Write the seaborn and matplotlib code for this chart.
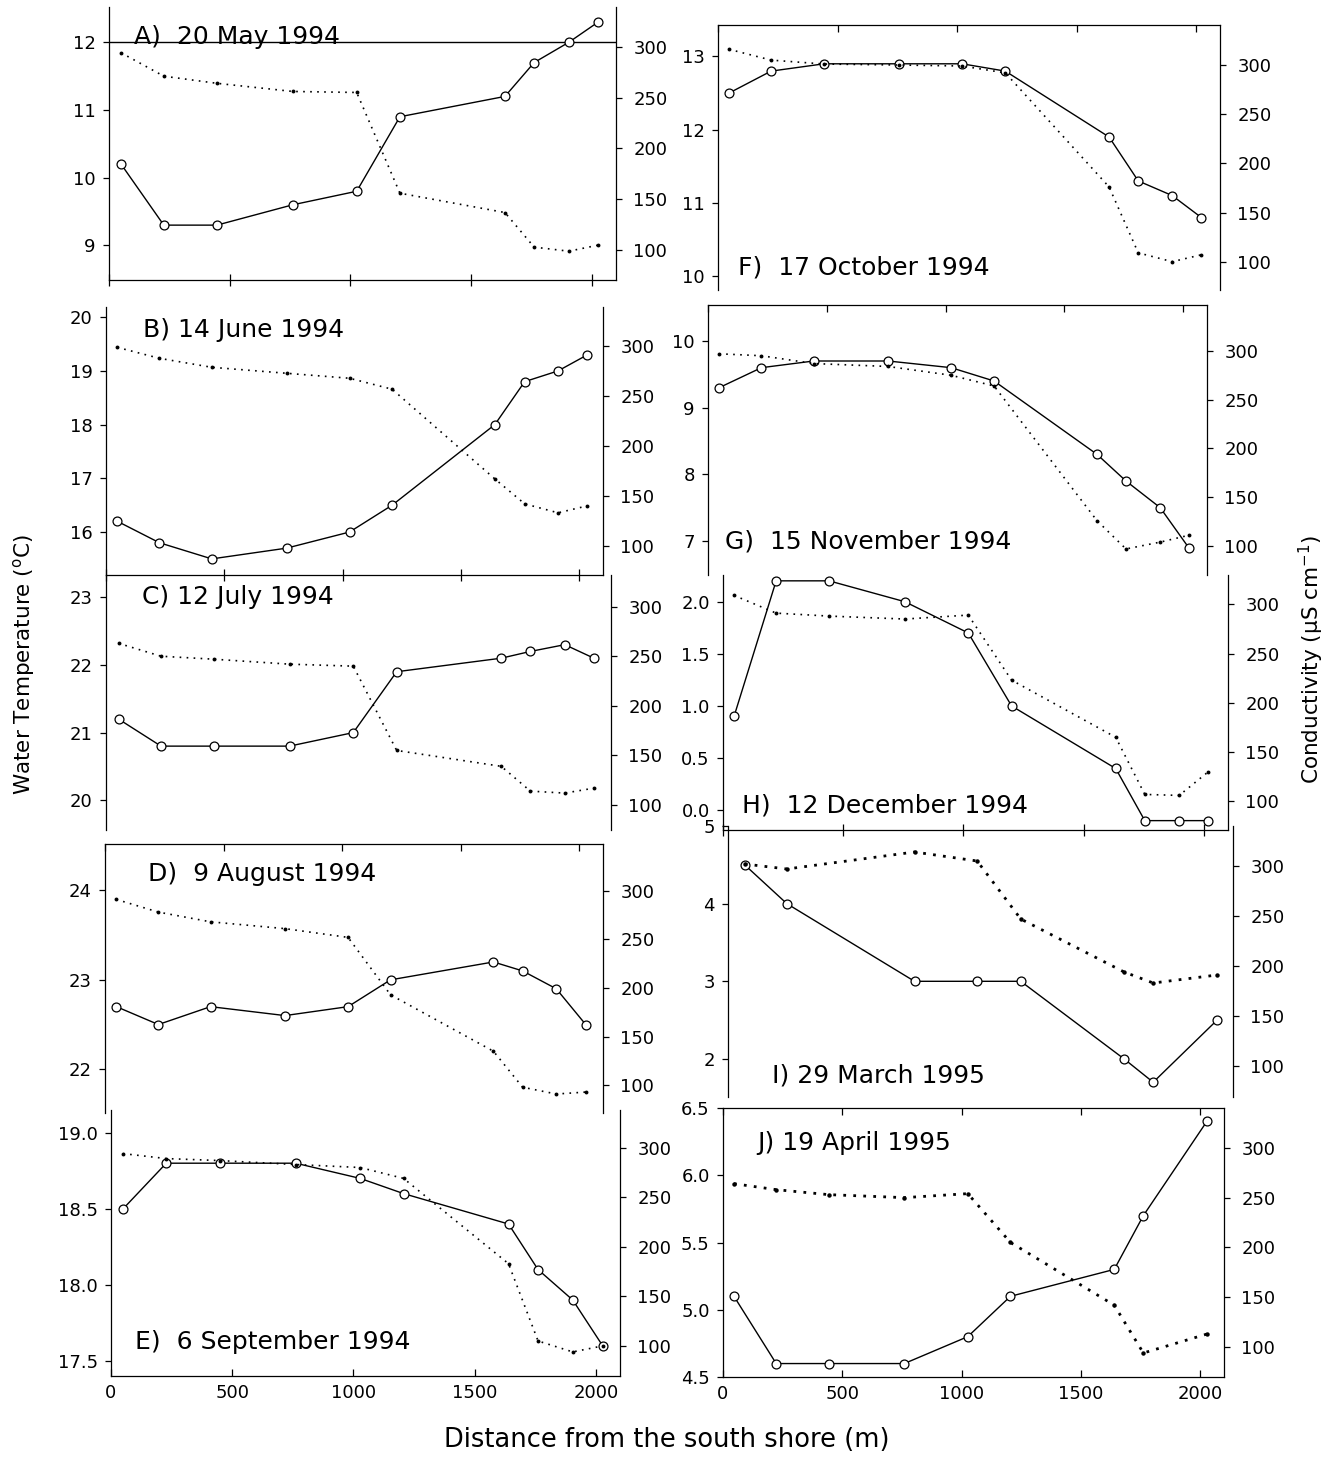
import matplotlib
matplotlib.use("Agg")
import matplotlib.pyplot as plt
import seaborn as sns

# ---- station data: distance from south shore (m), water temperature (°C), conductivity (µS/cm)
dist_A = [50, 227, 447, 761, 1026, 1205, 1640, 1761, 1905, 2027]
temp_A = [10.2, 9.3, 9.3, 9.6, 9.8, 10.9, 11.2, 11.7, 12.0, 12.3]
cond_A = [294, 271, 264, 256, 255, 156, 137, 103, 99, 105]

dist_B = [48, 226, 447, 763, 1029, 1209, 1643, 1769, 1910, 2034]
temp_B = [16.2, 15.8, 15.5, 15.7, 16.0, 16.5, 18.0, 18.8, 19.0, 19.3]
cond_B = [299, 288, 279, 273, 268, 257, 167, 142, 133, 140]

dist_C = [53, 232, 455, 774, 1043, 1226, 1667, 1790, 1935, 2058]
temp_C = [21.2, 20.8, 20.8, 20.8, 21.0, 21.9, 22.1, 22.2, 22.3, 22.1]
cond_C = [263, 250, 247, 242, 240, 155, 139, 114, 112, 117]

dist_D = [48, 225, 445, 759, 1025, 1204, 1638, 1761, 1903, 2027]
temp_D = [22.7, 22.5, 22.7, 22.6, 22.7, 23.0, 23.2, 23.1, 22.9, 22.5]
cond_D = [291, 278, 268, 261, 252, 193, 135, 98, 91, 93]

dist_E = [50, 228, 448, 762, 1028, 1207, 1640, 1762, 1905, 2028]
temp_E = [18.5, 18.8, 18.8, 18.8, 18.7, 18.6, 18.4, 18.1, 17.9, 17.6]
cond_E = [294, 289, 287, 283, 280, 269, 183, 105, 94, 100]

dist_F = [46, 222, 444, 759, 1021, 1202, 1636, 1758, 1900, 2022]
temp_F = [12.5, 12.8, 12.9, 12.9, 12.9, 12.8, 11.9, 11.3, 11.1, 10.8]
cond_F = [316, 305, 301, 300, 299, 292, 176, 109, 100, 107]

dist_G = [47, 225, 445, 758, 1023, 1204, 1637, 1759, 1903, 2023]
temp_G = [9.3, 9.6, 9.7, 9.7, 9.6, 9.4, 8.3, 7.9, 7.5, 6.9]
cond_G = [297, 295, 287, 284, 275, 264, 126, 97, 104, 111]

dist_H = [46, 221, 441, 756, 1020, 1200, 1633, 1754, 1897, 2018]
temp_H = [0.9, 2.2, 2.2, 2.0, 1.7, 1.0, 0.4, -0.1, -0.1, -0.1]
cond_H = [309, 291, 288, 285, 289, 223, 165, 107, 106, 130]

dist_I = [70, 247, 783, 1046, 1229, 1663, 1785, 2053]
temp_I = [4.5, 4.0, 3.0, 3.0, 3.0, 2.0, 1.7, 2.5]
cond_I = [302, 297, 314, 305, 247, 194, 183, 191]

dist_J = [46, 223, 443, 760, 1026, 1205, 1640, 1762, 2028]
temp_J = [5.1, 4.6, 4.6, 4.6, 4.8, 5.1, 5.3, 5.7, 6.4]
cond_J = [264, 258, 253, 250, 254, 205, 142, 94, 113]

titles = {
    "A": "A)  20 May 1994", "B": "B) 14 June 1994", "C": "C) 12 July 1994",
    "D": "D)  9 August 1994", "E": "E)  6 September 1994",
    "F": "F)  17 October 1994", "G": "G)  15 November 1994",
    "H": "H)  12 December 1994", "I": "I) 29 March 1995", "J": "J) 19 April 1995",
}
x_ticks = [0, 500, 1000, 1500, 2000]
x_tick_labels = ["0", "500", "1000", "1500", "2000"]
cond_ticks = [100, 150, 200, 250, 300]

data = {
    "A": (dist_A, temp_A, cond_A), "B": (dist_B, temp_B, cond_B),
    "C": (dist_C, temp_C, cond_C), "D": (dist_D, temp_D, cond_D),
    "E": (dist_E, temp_E, cond_E), "F": (dist_F, temp_F, cond_F),
    "G": (dist_G, temp_G, cond_G), "H": (dist_H, temp_H, cond_H),
    "I": (dist_I, temp_I, cond_I), "J": (dist_J, temp_J, cond_J),
}

# ---- layout of each panel (pixel box, limits, ticks, frame)
W, H = 1332, 1473
layout = {
    # box: left, right, top, bottom (px)
    "A": dict(box=(109, 616, 7, 280), xlim=(0, 2100), ylim=(8.49, 12.52), clim=(70.7, 339),
              yt=[9, 10, 11, 12], fmt="{:.0f}", top=None, bottom="inout", label=(134, 37)),
    "B": dict(box=(106, 603, 307, 575), xlim=(0, 2100), ylim=(15.2, 20.19), clim=(70.6, 339.5),
              yt=[16, 17, 18, 19, 20], fmt="{:.0f}", top=None, bottom="inout", label=(143, 330)),
    "C": dict(box=(106, 611, 575, 830), xlim=(0, 2130), ylim=(19.56, 23.33), clim=(74.8, 331.9),
              yt=[20, 21, 22, 23], fmt="{:.0f}", top=None, bottom=None, label=(142, 597)),
    "D": dict(box=(105, 603, 844, 1113), xlim=(0, 2100), ylim=(21.51, 24.52), clim=(71.5, 348),
              yt=[22, 23, 24], fmt="{:.0f}", top="in", bottom=None, label=(148, 874)),
    "E": dict(box=(111, 620, 1110, 1376), xlim=(0, 2100), ylim=(17.4, 19.15), clim=(69.7, 338),
              yt=[17.5, 18.0, 18.5, 19.0], fmt="{:.1f}", top=None, bottom="in", label=(135, 1342),
              xlabels=True),
    "F": dict(box=(718, 1220, 25, 290), xlim=(0, 2100), ylim=(9.81, 13.43), clim=(71.2, 340.7),
              yt=[10, 11, 12, 13], fmt="{:.0f}", top="in", bottom=None, label=(738, 267)),
    "G": dict(box=(708, 1207, 305, 575), xlim=(0, 2100), ylim=(6.49, 10.54), clim=(70.3, 347),
              yt=[7, 8, 9, 10], fmt="{:.0f}", top="in", bottom=None, label=(725, 541)),
    "H": dict(box=(723, 1228, 575, 830), xlim=(0, 2100), ylim=(-0.19, 2.256), clim=(70.9, 329.7),
              yt=[0.0, 0.5, 1.0, 1.5, 2.0], fmt="{:.1f}", top=None, bottom="inout", label=(742, 806)),
    "I": dict(box=(728, 1233, 826, 1097), xlim=(20, 2120), ylim=(1.51, 5.0), clim=(69, 340),
              yt=[2, 3, 4, 5], fmt="{:.0f}", top=None, bottom=None, label=(772, 1076), heavy=True),
    "J": dict(box=(723, 1224, 1108, 1377), xlim=(0, 2100), ylim=(4.5, 6.5), clim=(69.9, 340),
              yt=[4.5, 5.0, 5.5, 6.0, 6.5], fmt="{:.1f}", top="in", bottom="in", label=(757, 1143),
              xlabels=True, heavy=True),
}

sns.set_style("white")
plt.rcParams["font.family"] = ["DejaVu Sans"]
plt.rcParams["mathtext.default"] = "regular"
plt.rcParams["axes.linewidth"] = 0.9
for k in ("text.color", "axes.labelcolor", "xtick.color", "ytick.color", "axes.edgecolor"):
    plt.rcParams[k] = "black"

fig = plt.figure(figsize=(W / 100, H / 100), dpi=100)
fig.patch.set_facecolor("white")

TICK_FS = 13
for key, spec in layout.items():
    l, r, t, b = spec["box"]
    ax = fig.add_axes([l / W, 1 - b / H, (r - l) / W, (b - t) / H])
    ax.set_facecolor("none")
    ax2 = ax.twinx()
    dist, temp, cond = data[key]

    # water temperature: solid line with open circles
    sns.lineplot(x=dist, y=temp, ax=ax, color="black", linewidth=1.0, marker="o",
                 markersize=6.4, markerfacecolor="white", markeredgecolor="black",
                 markeredgewidth=0.9, sort=False, estimator=None, zorder=3)
    # conductivity: dotted line with small filled dots
    heavy = spec.get("heavy", False)
    sns.lineplot(x=dist, y=cond, ax=ax2, color="black",
                 linewidth=2.0 if heavy else 1.2,
                 linestyle=(0, (1, 2.6)) if heavy else (0, (1, 3.2)),
                 marker="o", markersize=3.2 if heavy else 2.8, markeredgewidth=0,
                 sort=False, estimator=None, zorder=3)

    ax.set_xlim(*spec["xlim"])
    ax.set_ylim(*spec["ylim"])
    ax2.set_ylim(*spec["clim"])
    ax.set_xlabel("")
    ax.set_ylabel("")
    ax2.set_ylabel("")

    # frame
    for sp in ["top", "bottom", "left", "right"]:
        ax2.spines[sp].set_visible(sp == "right")
    ax.spines["right"].set_visible(False)
    ax.spines["left"].set_visible(True)
    ax.spines["top"].set_visible(spec["top"] is not None)
    ax.spines["bottom"].set_visible(spec["bottom"] is not None)
    for a in (ax, ax2):
        for sp in a.spines.values():
            sp.set_color("black")
            sp.set_linewidth(0.9)

    # x ticks
    ax.set_xticks(x_ticks)
    ax.set_xticklabels(x_tick_labels)
    show_lbl = spec.get("xlabels", False)
    ax.tick_params(axis="x", which="both", top=False, bottom=False,
                   labelbottom=False, labeltop=False)
    if spec["bottom"] is not None:
        ax.tick_params(axis="x", bottom=True, direction=spec["bottom"],
                       length=9 if spec["bottom"] == "inout" else 5, width=0.9,
                       labelbottom=show_lbl, labelsize=TICK_FS, pad=6)
    if spec["top"] is not None:
        # inward ticks hanging from the top spine
        for tick in ax.xaxis.get_major_ticks():
            tick.tick2line.set_visible(True)
            tick.tick2line.set_marker(3)
            tick.tick2line.set_markersize(5)
            tick.tick2line.set_markeredgewidth(0.9)
            tick.tick2line.set_color("black")

    # left axis: temperature
    ax.set_yticks(spec["yt"])
    ax.set_yticklabels([spec["fmt"].format(v) for v in spec["yt"]])
    ax.tick_params(axis="y", left=True, right=False, direction="out", length=4.5,
                   width=0.9, labelsize=TICK_FS, pad=5, colors="black")
    # right axis: conductivity
    ax2.set_yticks(cond_ticks)
    ax2.set_yticklabels([str(v) for v in cond_ticks])
    ax2.tick_params(axis="y", right=True, left=False, direction="out", length=4.5,
                    width=0.9, labelsize=TICK_FS, pad=8, colors="black")
    ax2.grid(False)
    ax.grid(False)

    if key == "A":
        ax.axhline(12, color="black", linewidth=1.0, zorder=1)

    lx, ly = spec["label"]
    fig.text(lx / W, 1 - ly / H, titles[key], ha="left", va="center", fontsize=18)

fig.text(24 / W, 1 - 665 / H, r"Water Temperature ($^{o}$C)", rotation=90,
         ha="center", va="center", fontsize=15.5)
fig.text(1311 / W, 1 - 660 / H, r"Conductivity (µS cm$^{-1}$)", rotation=90,
         ha="center", va="center", fontsize=15.5)
fig.text(667 / W, 1 - 1440 / H, "Distance from the south shore (m)",
         ha="center", va="center", fontsize=18.5)

fig.savefig("out.png", dpi=100, facecolor="white")
